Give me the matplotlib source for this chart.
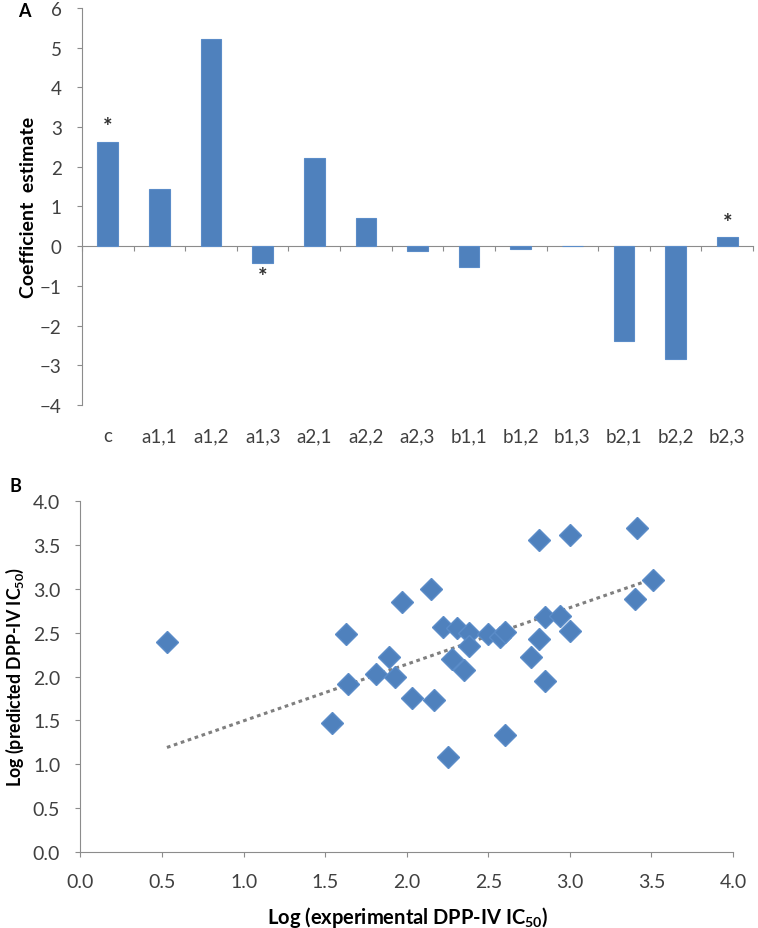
import numpy as np
import matplotlib.pyplot as plt

# Panel A: coefficient estimates
coef_names = ["c", "a1,1", "a1,2", "a1,3", "a2,1", "a2,2", "a2,3",
              "b1,1", "b1,2", "b1,3", "b2,1", "b2,2", "b2,3"]
coef_values = [2.63, 1.43, 5.22, -0.43, 2.22, 0.72, -0.13,
               -0.52, -0.08, 0.0, -2.38, -2.84, 0.22]
significant = ["c", "a1,3", "b2,3"]

# Panel B: experimental vs predicted log IC50
log_exp = [0.53, 1.54, 1.63, 1.64, 1.81, 1.89, 1.93, 2.03, 1.97,
           2.15, 2.17, 2.25, 2.60, 2.22, 2.31, 2.38, 2.38, 2.28, 2.35,
           2.50, 2.57, 2.60, 2.81, 3.00, 3.41, 3.51, 3.40, 2.85, 2.94,
           3.00, 2.81, 2.76, 2.85]
log_pred = [2.39, 1.47, 2.48, 1.91, 2.03, 2.22, 1.99, 1.75, 2.85,
            3.00, 1.73, 1.08, 1.33, 2.57, 2.55, 2.50, 2.35, 2.20, 2.07,
            2.48, 2.45, 2.51, 3.56, 3.61, 3.70, 3.10, 2.89, 2.68, 2.69,
            2.52, 2.43, 2.22, 1.95]
# trend line as drawn in the figure
trend_slope = 0.646
trend_intercept = 0.848

plt.rcParams['font.family'] = ['Lato', 'DejaVu Sans']
plt.rcParams['mathtext.fontset'] = 'custom'
plt.rcParams['mathtext.rm'] = 'Lato'

bar_color = "#4F81BD"
axis_color = "#8C8C8C"
tick_text = "#404040"

fig = plt.figure(figsize=(7.58, 9.29), dpi=100)

#%% Panel A
ax1 = fig.add_axes([0.1082, 0.563, 0.8852, 0.4273])
x = np.arange(len(coef_names))
ax1.bar(x, coef_values, width=0.4, color=bar_color, edgecolor="#5B8CC8", linewidth=0.8, zorder=3)
ymin, ymax = -4, 6
ax1.set_ylim(ymin, ymax)
ax1.set_xlim(-0.5, len(coef_names) - 0.5)
ax1.set_yticks(range(-4, 7))
ax1.set_xticks(x)
ax1.set_xticklabels(coef_names)
ax1.tick_params(axis='x', length=0, pad=16, labelsize=13.5, labelcolor=tick_text)
ax1.tick_params(axis='y', direction='out', length=3.6, color=axis_color, pad=11,
                labelsize=13.5, labelcolor=tick_text)
for s in ["top", "right", "bottom"]:
    ax1.spines[s].set_visible(False)
ax1.spines["left"].set_color(axis_color)

# zero line with category ticks
zero_axis = ax1.secondary_xaxis((0 - ymin) / (ymax - ymin))
zero_axis.set_xticks(np.arange(len(coef_names) + 1) - 0.5)
zero_axis.tick_params(axis='x', direction='out', length=3.6, color=axis_color, labelbottom=False, labeltop=False,
                      bottom=True, top=False)
zero_axis.spines["bottom"].set_color(axis_color)
zero_axis.spines["top"].set_visible(False)

for i, (name, v) in enumerate(zip(coef_names, coef_values)):
    if name in significant:
        offset = 0.38 if v >= 0 else -0.33
        ax1.text(i, v + offset, "*", ha="center", va="center", fontsize=16,
                 fontweight="bold", color="#303030")

ax1.set_ylabel("Coefficient  estimate", fontsize=14, fontweight="bold", va="center")
ax1.yaxis.set_label_coords(-0.08, 0.5)
fig.text(0.024, 0.988, "A", fontsize=13, fontweight="bold", va="center")

#%% Panel B
ax2 = fig.add_axes([0.1062, 0.0821, 0.8608, 0.3772])
ax2.plot(log_exp, log_pred, linestyle="none", marker="D", markersize=11.5,
         color=bar_color, markeredgecolor="#5B8CC8", zorder=3)

xx = np.array([min(log_exp), max(log_exp)])
ax2.plot(xx, trend_slope * xx + trend_intercept, linestyle=(0, (1.2, 1.2)),
         color="#7F7F7F", linewidth=2.2, zorder=2)

ax2.set_xlim(0, 4)
ax2.set_ylim(0, 4)
ticks = np.arange(0, 4.01, 0.5)
ax2.set_xticks(ticks)
ax2.set_yticks(ticks)
ax2.set_xticklabels([f"{t:.1f}" for t in ticks])
ax2.set_yticklabels([f"{t:.1f}" for t in ticks])
ax2.tick_params(direction='out', length=3.6, color=axis_color, labelsize=14, labelcolor=tick_text)
ax2.tick_params(axis='x', pad=12)
ax2.tick_params(axis='y', pad=11)
for s in ["top", "right"]:
    ax2.spines[s].set_visible(False)
for s in ["left", "bottom"]:
    ax2.spines[s].set_color(axis_color)

ax2.set_xlabel(r"Log (experimental DPP-IV IC$_{\mathregular{50}}$)", fontsize=14.5, fontweight="bold", va="center")
ax2.xaxis.set_label_coords(0.501, -0.186)
ax2.set_ylabel(r"Log (predicted DPP-IV IC$_{\mathregular{50}}$)", fontsize=12.8, fontweight="bold", va="center")
ax2.yaxis.set_label_coords(-0.1, 0.503)
fig.text(0.013, 0.476, "B", fontsize=13, fontweight="bold", va="center")

fig.savefig("out.png", dpi=100)
